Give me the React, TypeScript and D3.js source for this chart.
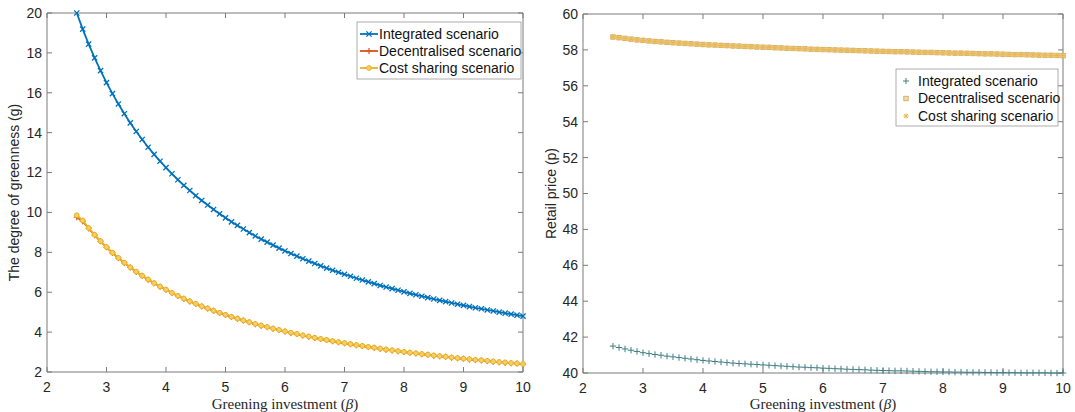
import React from "react";
import * as d3 from "d3";

// ---------- DATA ----------
const beta = [
  2.5, 2.6, 2.7, 2.8, 2.9, 3.0, 3.1, 3.2, 3.3, 3.4, 3.5, 3.6, 3.7, 3.8, 3.9,
  4.0, 4.1, 4.2, 4.3, 4.4, 4.5, 4.6, 4.7, 4.8, 4.9, 5.0, 5.1, 5.2, 5.3, 5.4,
  5.5, 5.6, 5.7, 5.8, 5.9, 6.0, 6.1, 6.2, 6.3, 6.4, 6.5, 6.6, 6.7, 6.8, 6.9,
  7.0, 7.1, 7.2, 7.3, 7.4, 7.5, 7.6, 7.7, 7.8, 7.9, 8.0, 8.1, 8.2, 8.3, 8.4,
  8.5, 8.6, 8.7, 8.8, 8.9, 9.0, 9.1, 9.2, 9.3, 9.4, 9.5, 9.6, 9.7, 9.8, 9.9,
  10.0,
];

const greenIntegrated = [
  20.0, 19.19, 18.44, 17.75, 17.11, 16.51, 15.96, 15.44, 14.95, 14.49, 14.06,
  13.66, 13.27, 12.91, 12.57, 12.25, 11.94, 11.64, 11.36, 11.1, 10.84, 10.6,
  10.37, 10.15, 9.93, 9.73, 9.53, 9.35, 9.17, 8.99, 8.82, 8.66, 8.51, 8.36,
  8.21, 8.07, 7.94, 7.81, 7.68, 7.56, 7.44, 7.32, 7.21, 7.1, 7.0, 6.9, 6.8,
  6.7, 6.61, 6.52, 6.43, 6.34, 6.26, 6.18, 6.1, 6.02, 5.94, 5.87, 5.8, 5.73,
  5.66, 5.59, 5.53, 5.46, 5.4, 5.34, 5.28, 5.22, 5.17, 5.11, 5.06, 5.0, 4.95,
  4.9, 4.85, 4.8,
];

const greenCostSharing = [
  9.86, 9.6, 9.22, 8.88, 8.56, 8.26, 7.98, 7.72, 7.48, 7.25, 7.03, 6.83, 6.64,
  6.46, 6.29, 6.13, 5.97, 5.82, 5.68, 5.55, 5.42, 5.3, 5.19, 5.08, 4.97, 4.87,
  4.77, 4.68, 4.59, 4.5, 4.41, 4.33, 4.26, 4.18, 4.11, 4.04, 3.97, 3.91, 3.84,
  3.78, 3.72, 3.66, 3.61, 3.55, 3.5, 3.45, 3.4, 3.35, 3.31, 3.26, 3.22, 3.17,
  3.13, 3.09, 3.05, 3.01, 2.97, 2.94, 2.9, 2.87, 2.83, 2.8, 2.77, 2.73, 2.7,
  2.67, 2.64, 2.61, 2.59, 2.56, 2.53, 2.5, 2.48, 2.45, 2.43, 2.4,
];

const greenDecentralised = [
  9.76, 9.56, 9.2, 8.86, 8.55, 8.25, 7.97, 7.71, 7.47, 7.24, 7.02, 6.82, 6.63,
  6.45, 6.28, 6.12, 5.96, 5.81, 5.67, 5.54, 5.41, 5.29, 5.18, 5.07, 4.96, 4.86,
  4.76, 4.67, 4.58, 4.49, 4.4, 4.32, 4.25, 4.17, 4.1, 4.03, 3.96, 3.9, 3.83,
  3.77, 3.71, 3.65, 3.6, 3.54, 3.49, 3.44, 3.39, 3.34, 3.3, 3.25, 3.21, 3.16,
  3.12, 3.08, 3.04, 3.0, 2.96, 2.93, 2.89, 2.86, 2.82, 2.79, 2.76, 2.72, 2.69,
  2.66, 2.63, 2.6, 2.58, 2.55, 2.52, 2.49, 2.47, 2.44, 2.42, 2.39,
];

const priceIntegrated = [
  41.5, 41.42, 41.34, 41.27, 41.2, 41.13, 41.08, 41.03, 40.99, 40.94, 40.9,
  40.86, 40.82, 40.78, 40.74, 40.7, 40.67, 40.64, 40.61, 40.58, 40.55, 40.53,
  40.51, 40.49, 40.47, 40.45, 40.43, 40.41, 40.39, 40.37, 40.35, 40.33, 40.32,
  40.3, 40.29, 40.27, 40.26, 40.24, 40.23, 40.21, 40.2, 40.19, 40.18, 40.16,
  40.15, 40.14, 40.13, 40.12, 40.12, 40.11, 40.1, 40.09, 40.08, 40.07, 40.07,
  40.06, 40.06, 40.05, 40.05, 40.04, 40.04, 40.04, 40.03, 40.03, 40.02, 40.02,
  40.02, 40.02, 40.01, 40.01, 40.01, 40.01, 40.01, 40.0, 40.0, 40.0,
];

const priceDecentralised = [
  58.72, 58.68, 58.64, 58.6, 58.56, 58.53, 58.5, 58.47, 58.45, 58.42, 58.4,
  58.38, 58.36, 58.34, 58.32, 58.3, 58.28, 58.27, 58.25, 58.24, 58.22, 58.21,
  58.19, 58.18, 58.16, 58.15, 58.14, 58.12, 58.11, 58.09, 58.08, 58.07, 58.06,
  58.04, 58.03, 58.02, 58.01, 58.0, 57.99, 57.98, 57.97, 57.96, 57.95, 57.94,
  57.93, 57.92, 57.91, 57.9, 57.9, 57.89, 57.88, 57.87, 57.86, 57.86, 57.85,
  57.84, 57.83, 57.82, 57.82, 57.81, 57.8, 57.79, 57.78, 57.78, 57.77, 57.76,
  57.75, 57.74, 57.74, 57.73, 57.72, 57.71, 57.7, 57.7, 57.69, 57.68,
];

const priceCostSharing = priceDecentralised.slice();

const xTicks = [2, 3, 4, 5, 6, 7, 8, 9, 10];
const gTicks = [2, 4, 6, 8, 10, 12, 14, 16, 18, 20];
const pTicks = [40, 42, 44, 46, 48, 50, 52, 54, 56, 58, 60];

const legendLabels = [
  "Integrated scenario",
  "Decentralised scenario",
  "Cost sharing scenario",
];

// ---------- STYLE ----------
const SANS = "'Liberation Sans', Arial, Helvetica, sans-serif";
const SERIF = "'Liberation Serif', 'Times New Roman', serif";
const BLUE = "#0072BD";
const ORANGE = "#D95319";
const YELLOW = "#EDB120";
const AXIS = "#7a7a7a";
const TICKTXT = "#262626";

type Pt = { x: number; y: number };

function XMark({ x, y, c, s = 3 }: { x: number; y: number; c: string; s?: number }) {
  return (
    <path
      d={`M${x - s},${y - s}L${x + s},${y + s}M${x - s},${y + s}L${x + s},${y - s}`}
      stroke={c}
      strokeWidth={1.3}
      fill="none"
    />
  );
}
function PlusMark({ x, y, c, s = 3.5, w = 1.2 }: { x: number; y: number; c: string; s?: number; w?: number }) {
  return (
    <path
      d={`M${x - s},${y}H${x + s}M${x},${y - s}V${y + s}`}
      stroke={c}
      strokeWidth={w}
      fill="none"
    />
  );
}
function StarMark({ x, y, c, s = 3 }: { x: number; y: number; c: string; s?: number }) {
  const d = s * 0.75;
  return (
    <path
      d={`M${x - s},${y}H${x + s}M${x},${y - s}V${y + s}M${x - d},${y - d}L${x + d},${y + d}M${x - d},${y + d}L${x + d},${y - d}`}
      stroke={c}
      strokeWidth={1}
      fill="none"
    />
  );
}

function Frame({
  left, right, top, bottom, x, y, yTicks,
}: {
  left: number; right: number; top: number; bottom: number;
  x: d3.ScaleLinear<number, number>; y: d3.ScaleLinear<number, number>; yTicks: number[];
}) {
  const tl = 5;
  return (
    <g>
      <rect x={left} y={top} width={right - left} height={bottom - top} fill="#fff" />
      {xTicks.map((t) => (
        <g key={"x" + t}>
          <line x1={x(t)} x2={x(t)} y1={bottom} y2={bottom - tl} stroke={AXIS} strokeWidth={1} />
          <line x1={x(t)} x2={x(t)} y1={top} y2={top + tl} stroke={AXIS} strokeWidth={1} />
          <text
            x={x(t)}
            y={bottom + 20}
            textAnchor="middle"
            fontFamily={SANS}
            fontSize={14}
            fill={TICKTXT}
          >
            {t}
          </text>
        </g>
      ))}
      {yTicks.map((t) => (
        <g key={"y" + t}>
          <line x1={left} x2={left + tl} y1={y(t)} y2={y(t)} stroke={AXIS} strokeWidth={1} />
          <line x1={right} x2={right - tl} y1={y(t)} y2={y(t)} stroke={AXIS} strokeWidth={1} />
          <text
            x={left - 5}
            y={y(t)}
            dy="0.35em"
            textAnchor="end"
            fontFamily={SANS}
            fontSize={14}
            fill={TICKTXT}
          >
            {t}
          </text>
        </g>
      ))}
      <path
        d={`M${left},${top}H${right}V${bottom}H${left}Z`}
        fill="none"
        stroke={AXIS}
        strokeWidth={1}
      />
    </g>
  );
}

function XTitle({ cx }: { cx: number }) {
  return (
    <text x={cx} y={409} textAnchor="middle" fontFamily={SERIF} fontSize={15} fill={TICKTXT}>
      Greening investment (<tspan fontStyle="italic">β</tspan>)
    </text>
  );
}

export default function App() {
  // Left panel
  const L = { left: 47, right: 523, top: 13, bottom: 372 };
  const xL = d3.scaleLinear().domain([2, 10]).range([L.left, L.right]);
  const yL = d3.scaleLinear().domain([2, 20]).range([L.bottom, L.top]);
  const lineL = d3
    .line<number>()
    .x((_, i) => xL(beta[i]))
    .y((d) => yL(d));

  // Right panel
  const R = { left: 583, right: 1063, top: 14, bottom: 373 };
  const xR = d3.scaleLinear().domain([2, 10]).range([R.left, R.right]);
  const yR = d3.scaleLinear().domain([40, 60]).range([R.bottom, R.top]);

  const ptsL = (arr: number[]): Pt[] => arr.map((v, i) => ({ x: xL(beta[i]), y: yL(v) }));
  const ptsR = (arr: number[]): Pt[] => arr.map((v, i) => ({ x: xR(beta[i]), y: yR(v) }));

  const legL = { x: 357, y: 22, w: 164, h: 57 };
  const legR = { x: 896, y: 69, w: 162, h: 57 };

  return (
    <svg
      width={1075}
      height={412}
      style={{ position: "absolute", left: 0, top: 0, background: "#fff" }}
    >
      <rect x={0} y={0} width={1075} height={412} fill="#fff" />

      {/* ----- Left panel ----- */}
      <Frame {...L} x={xL} y={yL} yTicks={gTicks} />
      <g>
        <path d={lineL(greenIntegrated) || ""} fill="none" stroke={BLUE} strokeWidth={1.8} />
        {ptsL(greenIntegrated).map((p, i) => (
          <XMark key={"bi" + i} x={p.x} y={p.y} c={BLUE} s={2.6} />
        ))}
        <path d={lineL(greenDecentralised) || ""} fill="none" stroke={ORANGE} strokeWidth={1.8} />
        {ptsL(greenDecentralised).map((p, i) => (
          <PlusMark key={"od" + i} x={p.x} y={p.y} c={ORANGE} s={3} />
        ))}
        <path d={lineL(greenCostSharing) || ""} fill="none" stroke={YELLOW} strokeWidth={1.8} />
        {ptsL(greenCostSharing).map((p, i) => (
          <circle key={"yc" + i} cx={p.x} cy={p.y} r={2.4} fill="#f3cf6a" stroke={YELLOW} strokeWidth={1} />
        ))}
      </g>
      <text
        transform={`translate(19,${(L.top + L.bottom) / 2}) rotate(-90)`}
        textAnchor="middle"
        fontFamily={SANS}
        fontSize={14}
        fill={TICKTXT}
      >
        The degree of greenness (g)
      </text>
      <XTitle cx={(L.left + L.right) / 2} />

      {/* Left legend */}
      <g>
        <rect x={legL.x} y={legL.y} width={legL.w} height={legL.h} fill="#fff" stroke="#9a9a9a" strokeWidth={0.8} />
        {legendLabels.map((lab, i) => {
          const yy = legL.y + 12 + i * 17;
          const c = [BLUE, ORANGE, YELLOW][i];
          return (
            <g key={lab}>
              <line x1={legL.x + 3} x2={legL.x + 21} y1={yy} y2={yy} stroke={c} strokeWidth={1.8} />
              {i === 0 && <XMark x={legL.x + 12} y={yy} c={c} s={2.6} />}
              {i === 1 && <PlusMark x={legL.x + 12} y={yy} c={c} s={3} />}
              {i === 2 && <circle cx={legL.x + 12} cy={yy} r={2.4} fill="#f3cf6a" stroke={c} strokeWidth={1} />}
              <text x={legL.x + 22} y={yy} dy="0.35em" fontFamily={SANS} fontSize={14} fill="#111">
                {lab}
              </text>
            </g>
          );
        })}
      </g>

      {/* ----- Right panel ----- */}
      <Frame {...R} x={xR} y={yR} yTicks={pTicks} />
      <g>
        {ptsR(priceDecentralised).map((p, i) => (
          <rect key={"sq" + i} x={p.x - 2.2} y={p.y - 2.2} width={4.4} height={4.4} fill="#f2ddb0" stroke="#d6aa58" strokeWidth={0.9} />
        ))}
        {ptsR(priceCostSharing).map((p, i) => (
          <StarMark key={"st" + i} x={p.x} y={p.y} c="#eab64a" s={2.6} />
        ))}
        {ptsR(priceIntegrated).map((p, i) => (
          <PlusMark key={"pl" + i} x={p.x} y={p.y} c="#3f7f86" s={3.2} w={1} />
        ))}
      </g>
      <text
        transform={`translate(556,${(R.top + R.bottom) / 2}) rotate(-90)`}
        textAnchor="middle"
        fontFamily={SANS}
        fontSize={14}
        fill={TICKTXT}
      >
        Retail price (p)
      </text>
      <XTitle cx={(R.left + R.right) / 2} />

      {/* Right legend */}
      <g>
        <rect x={legR.x} y={legR.y} width={legR.w} height={legR.h} fill="#fff" stroke="#9a9a9a" strokeWidth={0.8} />
        {legendLabels.map((lab, i) => {
          const yy = legR.y + 12 + i * 17.5;
          const mx = legR.x + 10;
          return (
            <g key={"r" + lab}>
              {i === 0 && <PlusMark x={mx} y={yy} c="#3f7f86" s={3} w={1} />}
              {i === 1 && <rect x={mx - 2.2} y={yy - 2.2} width={4.4} height={4.4} fill="#f2ddb0" stroke="#d6aa58" strokeWidth={0.9} />}
              {i === 2 && <StarMark x={mx} y={yy} c="#eab64a" s={2.6} />}
              <text x={legR.x + 22} y={yy} dy="0.35em" fontFamily={SANS} fontSize={14} fill="#111">
                {lab}
              </text>
            </g>
          );
        })}
      </g>
    </svg>
  );
}
